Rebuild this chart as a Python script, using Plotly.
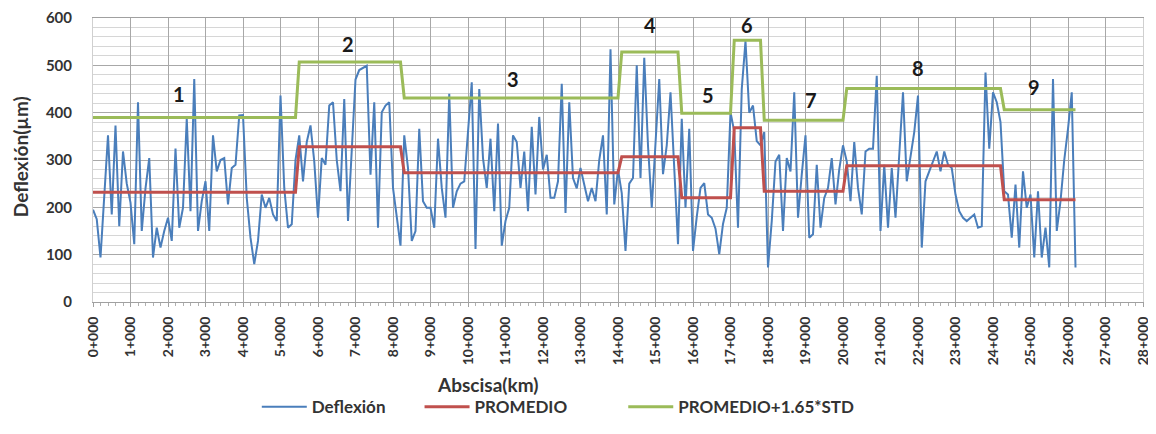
import plotly.graph_objects as go

# Deflexión readings every 0.1 km (0+000 .. 26+200)
deflexion = [
    195, 175, 94, 230, 352, 185, 373, 160, 318, 250,
    210, 122, 422, 150, 240, 304, 94, 157, 115, 150,
    178, 129, 324, 157, 199, 387, 192, 471, 150, 213,
    255, 150, 352, 276, 300, 304, 206, 283, 290, 394,
    395, 220, 136, 80, 129, 227, 199, 220, 185, 171,
    436, 241, 157, 164, 300, 352, 255, 338, 373, 297,
    178, 304, 290, 415, 422, 300, 234, 429, 171, 320,
    470, 490, 495, 499, 269, 422, 157, 401, 415, 422,
    241, 180, 119, 352, 283, 129, 150, 366, 213, 199,
    199, 157, 345, 241, 178, 440, 199, 234, 250, 255,
    370, 464, 112, 450, 304, 241, 345, 192, 377, 119,
    171, 199, 352, 338, 241, 318, 192, 370, 227, 391,
    280, 311, 220, 220, 255, 461, 188, 422, 262, 240,
    283, 250, 213, 241, 213, 300, 352, 185, 534, 206,
    280, 230, 108, 250, 262, 500, 262, 516, 330, 199,
    350, 471, 270, 331, 443, 290, 122, 387, 199, 366,
    108, 180, 241, 251, 185, 178, 155, 101, 165, 199,
    401, 360, 157, 450, 551, 400, 415, 340, 331, 359,
    73, 171, 297, 311, 150, 304, 276, 443, 178, 269,
    352, 136, 143, 290, 157, 220, 241, 304, 206, 280,
    331, 297, 213, 338, 241, 185, 318, 324, 324, 478,
    150, 290, 157, 283, 178, 311, 443, 255, 311, 359,
    436, 115, 255, 276, 300, 318, 276, 318, 290, 283,
    227, 192, 178, 171, 178, 185, 157, 160, 485, 324,
    443, 422, 380, 234, 227, 136, 248, 115, 276, 199,
    227, 94, 234, 94, 157, 73, 471, 150, 213, 300,
    366, 443, 73,
]
station_step_km = 0.1
abscisa_km = [round(i * station_step_km, 1) for i in range(len(deflexion))]

# Homogeneous sections
seg_labels = ["1", "2", "3", "4", "5", "6", "7", "8", "9"]
seg_start_km = [0.0, 5.5, 8.3, 14.1, 15.7, 17.1, 17.9, 20.1, 24.3]
seg_end_km = [5.4, 8.2, 14.0, 15.6, 17.0, 17.8, 20.0, 24.2, 26.2]
seg_label_km = [2.3, 6.8, 11.2, 14.85, 16.4, 17.45, 19.15, 22.0, 25.1]
seg_label_um = [439, 545, 471, 586, 437, 586, 426, 495, 454]
promedio_seg = [232, 328, 273, 307, 220, 368, 234, 288, 216]
promedio_std_seg = [390, 507, 431, 528, 399, 553, 384, 451, 406]

tick_km = list(range(0, 29))
tick_labels = [f"{k}+000" for k in tick_km]


def seg_index(x):
    for i, (a, b) in enumerate(zip(seg_start_km, seg_end_km)):
        if a - 1e-9 <= x <= b + 1e-9:
            return i
    return None


promedio = [promedio_seg[seg_index(x)] for x in abscisa_km]
promedio_std = [promedio_std_seg[seg_index(x)] for x in abscisa_km]

FONT = "Lato"
TXT = "#333333"

fig = go.Figure()
fig.add_trace(go.Scatter(x=abscisa_km, y=deflexion, mode="lines", name="Deflexión",
                         line=dict(color="#4A7EBB", width=2), legend="legend"))
fig.add_trace(go.Scatter(x=abscisa_km, y=promedio, mode="lines", name="PROMEDIO",
                         line=dict(color="#C0504D", width=3), legend="legend2"))
fig.add_trace(go.Scatter(x=abscisa_km, y=promedio_std, mode="lines", name="PROMEDIO+1.65*STD",
                         line=dict(color="#9BBB59", width=3), legend="legend3"))

for lab, lx, ly in zip(seg_labels, seg_label_km, seg_label_um):
    fig.add_annotation(x=lx, y=ly, text=f"<b>{lab}</b>", showarrow=False,
                       xanchor="center", yanchor="middle",
                       font=dict(family=FONT, size=20, color="#1a1a1a"))

fig.add_annotation(xref="paper", yref="paper", x=0.376, y=-0.291, text="<b>Abscisa(km)</b>",
                   xanchor="center", yanchor="middle",
                   showarrow=False, font=dict(family=FONT, size=19, color=TXT))
fig.add_annotation(xref="paper", yref="paper", x=-0.0695, y=0.51, text="<b>Deflexión(µm)</b>",
                   xanchor="center", yanchor="middle",
                   textangle=-90, showarrow=False, font=dict(family=FONT, size=19, color=TXT))

leg_common = dict(orientation="h", y=-0.37, yanchor="middle", xanchor="left",
                  font=dict(family=FONT, size=17, color=TXT, weight="bold"),
                  bgcolor="rgba(0,0,0,0)", itemwidth=45)

# page body adds an 8px offset; figure sized to fit the 1156x434 window
fig.update_layout(
    width=1146, height=418,
    margin=dict(l=85, r=11, t=10, b=124, autoexpand=False),
    paper_bgcolor="white", plot_bgcolor="white",
    showlegend=True,
    legend=dict(x=0.156, **leg_common),
    legend2=dict(x=0.311, **leg_common),
    legend3=dict(x=0.505, **leg_common),
    font=dict(family=FONT, color=TXT),
)
fig.update_xaxes(
    range=[0, 28], tickmode="array", tickvals=tick_km, ticktext=tick_labels,
    tickangle=-90, tickfont=dict(family=FONT, size=14, color=TXT, weight="bold"),
    showgrid=True, gridcolor="#a8a8a8", gridwidth=1,
    showline=True, linecolor="#a0a0a0", mirror=True,
    ticks="outside", ticklen=4, tickcolor="#a0a0a0",
    minor=dict(dtick=0.2, ticks="outside", ticklen=3, tickcolor="#b0b0b0", showgrid=False),
    zeroline=False, ticklabelstandoff=4, automargin=False, ticklabeloverflow="allow",
)
fig.update_yaxes(
    range=[0, 600], dtick=100,
    tickfont=dict(family=FONT, size=15, color=TXT, weight="bold"),
    showgrid=True, gridcolor="#a8a8a8", gridwidth=1,
    minor=dict(dtick=20, showgrid=True, gridcolor="#d6d6d6"),
    showline=True, linecolor="#d0d0d0", mirror=True,
    zeroline=False, ticklabelstandoff=17, automargin=False, ticklabeloverflow="allow",
)

fig.write_html("out.html")
